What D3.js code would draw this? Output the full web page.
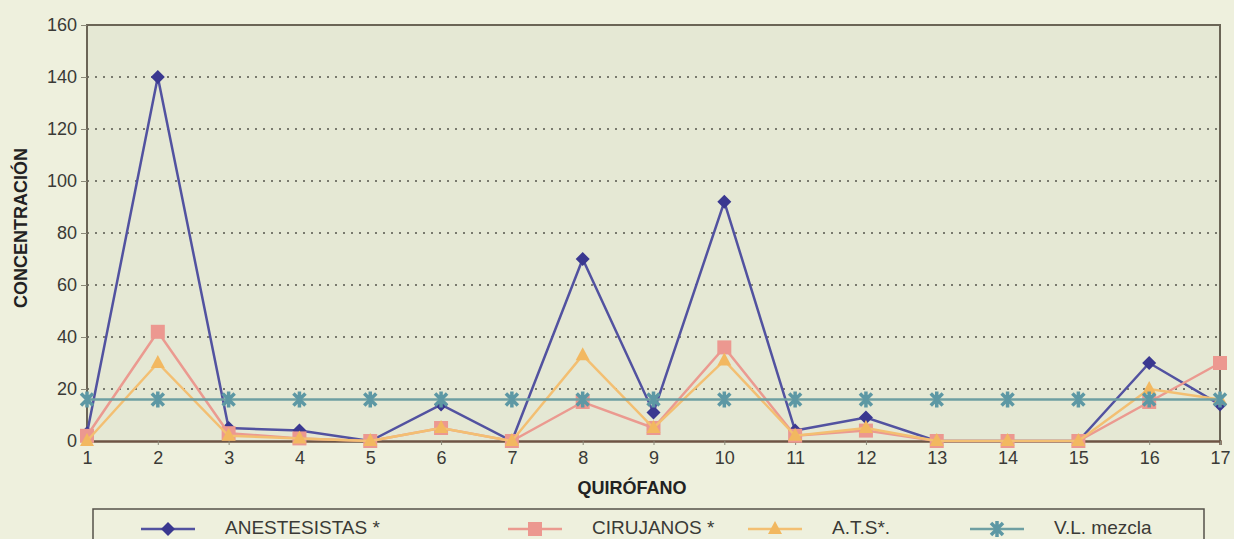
<!DOCTYPE html>
<html lang="es">
<head>
  <meta charset="UTF-8">
  <title>Concentración por quirófano</title>
  <script src="https://d3js.org/d3.v7.min.js"></script>
  <style>
    body { margin: 0; background: #eef0dd; }
    text { font-family: "Liberation Sans", Arial, sans-serif; fill: #3a3a36; }
    .tick text { font-size: 18px; }
    .title { font-weight: bold; font-size: 18px; fill: #222; }
    .legend text { font-size: 19px; }
  </style>
</head>
<body>
<script>
  const quirofanos = [1, 2, 3, 4, 5, 6, 7, 8, 9, 10, 11, 12, 13, 14, 15, 16, 17];
  const anestesistas = [3, 140, 5, 4, 0, 14, 0, 70, 11, 92, 4, 9, 0, 0, 0, 30, 14];
  const cirujanos = [2, 42, 3, 1, 0, 5, 0, 15, 5, 36, 2, 4, 0, 0, 0, 15, 30];
  const ats = [0, 30, 2, 1, 0, 5, 0, 33, 5, 31, 2, 5, 0, 0, 0, 20, 16];
  const vlMezcla = [16, 16, 16, 16, 16, 16, 16, 16, 16, 16, 16, 16, 16, 16, 16, 16, 16];
  const yTicks = [0, 20, 40, 60, 80, 100, 120, 140, 160];

  const series = [
    { name: "ANESTESISTAS *", values: anestesistas, line: "#5252a0", mark: "#3a3890", shape: "diamond" },
    { name: "CIRUJANOS *", values: cirujanos, line: "#eb9a90", mark: "#ec9890", shape: "square" },
    { name: "A.T.S*.", values: ats, line: "#f3bf72", mark: "#f2b860", shape: "triangle" },
    { name: "V.L. mezcla", values: vlMezcla, line: "#6e9fa2", mark: "#5d98a4", shape: "star" }
  ];

  const W = 1234, H = 539;
  const plotLeft = 87, plotRight = 1220, plotTop = 25, plotBottom = 441;

  const svg = d3.select("body").append("svg")
    .attr("width", W)
    .attr("height", H);

  const x = d3.scalePoint().domain(quirofanos).range([plotLeft, plotRight]);
  const y = d3.scaleLinear().domain([0, 160]).range([plotBottom, plotTop]);

  // plot area
  svg.append("rect")
    .attr("x", plotLeft).attr("y", plotTop)
    .attr("width", plotRight - plotLeft).attr("height", plotBottom - plotTop)
    .attr("fill", "#e5e8d4");

  // dotted grid
  svg.append("g")
    .selectAll("line")
    .data(yTicks.filter(d => d > 0 && d < 160))
    .enter().append("line")
    .attr("x1", plotLeft).attr("x2", plotRight)
    .attr("y1", d => y(d)).attr("y2", d => y(d))
    .attr("stroke", "#55554c")
    .attr("stroke-width", 1.6)
    .attr("stroke-dasharray", "2,6");

  // frame
  svg.append("path")
    .attr("d", `M${plotLeft},${plotBottom}V${plotTop}H${plotRight}V${plotBottom}`)
    .attr("fill", "none")
    .attr("stroke", "#6b6556")
    .attr("stroke-width", 2);

  // y axis
  const yAxis = svg.append("g")
    .attr("transform", `translate(${plotLeft},0)`)
    .call(d3.axisLeft(y).tickValues(yTicks).tickSize(6).tickPadding(4));
  yAxis.select(".domain").remove();
  yAxis.selectAll(".tick line").attr("stroke", "#8a8878");

  // x axis
  const xAxis = svg.append("g")
    .attr("transform", `translate(0,${plotBottom})`)
    .call(d3.axisBottom(x).tickSize(4).tickPadding(6));
  xAxis.select(".domain")
    .attr("stroke", "#6e5444")
    .attr("stroke-width", 2.5);
  xAxis.selectAll(".tick line").attr("stroke", "#8a8878");

  // axis titles
  svg.append("text")
    .attr("class", "title")
    .attr("transform", "translate(27,228) rotate(-90)")
    .attr("text-anchor", "middle")
    .text("CONCENTRACIÓN");

  svg.append("text")
    .attr("class", "title")
    .attr("x", 632)
    .attr("y", 494)
    .attr("text-anchor", "middle")
    .text("QUIRÓFANO");

  function drawMarker(g, shape, color) {
    if (shape === "diamond") {
      g.append("path").attr("d", "M0,-7L7,0L0,7L-7,0Z").attr("fill", color);
    } else if (shape === "square") {
      g.append("rect").attr("x", -7).attr("y", -7).attr("width", 14).attr("height", 14).attr("fill", color);
    } else if (shape === "triangle") {
      g.append("path").attr("d", "M0,-8L7,5L-7,5Z").attr("fill", color);
    } else {
      g.append("path")
        .attr("d", "M-6,-6L6,6M-6,6L6,-6M0,-8V8")
        .attr("stroke", color)
        .attr("stroke-width", 3.5)
        .attr("fill", "none");
    }
  }

  const line = d3.line()
    .x((d, i) => x(quirofanos[i]))
    .y(d => y(d));

  series.forEach(s => {
    svg.append("path")
      .datum(s.values)
      .attr("fill", "none")
      .attr("stroke", s.line)
      .attr("stroke-width", 2.5)
      .attr("d", line);

    s.values.forEach((v, i) => {
      const g = svg.append("g")
        .attr("transform", `translate(${x(quirofanos[i])},${y(v)})`);
      drawMarker(g, s.shape, s.mark);
    });
  });

  // legend
  const legend = svg.append("g").attr("class", "legend");
  legend.append("rect")
    .attr("x", 93).attr("y", 509)
    .attr("width", 1111).attr("height", 50)
    .attr("fill", "#eef0dd")
    .attr("stroke", "#55514a")
    .attr("stroke-width", 1.5);

  const legendX = [168, 535, 775, 997];
  series.forEach((s, i) => {
    const cx = legendX[i];
    legend.append("line")
      .attr("x1", cx - 27).attr("x2", cx + 27)
      .attr("y1", 529).attr("y2", 529)
      .attr("stroke", s.line)
      .attr("stroke-width", 2.5);
    const g = legend.append("g").attr("transform", `translate(${cx},529)`);
    drawMarker(g, s.shape, s.mark);
    legend.append("text")
      .attr("x", cx + 57)
      .attr("y", 534)
      .text(s.name);
  });
</script>
</body>
</html>
